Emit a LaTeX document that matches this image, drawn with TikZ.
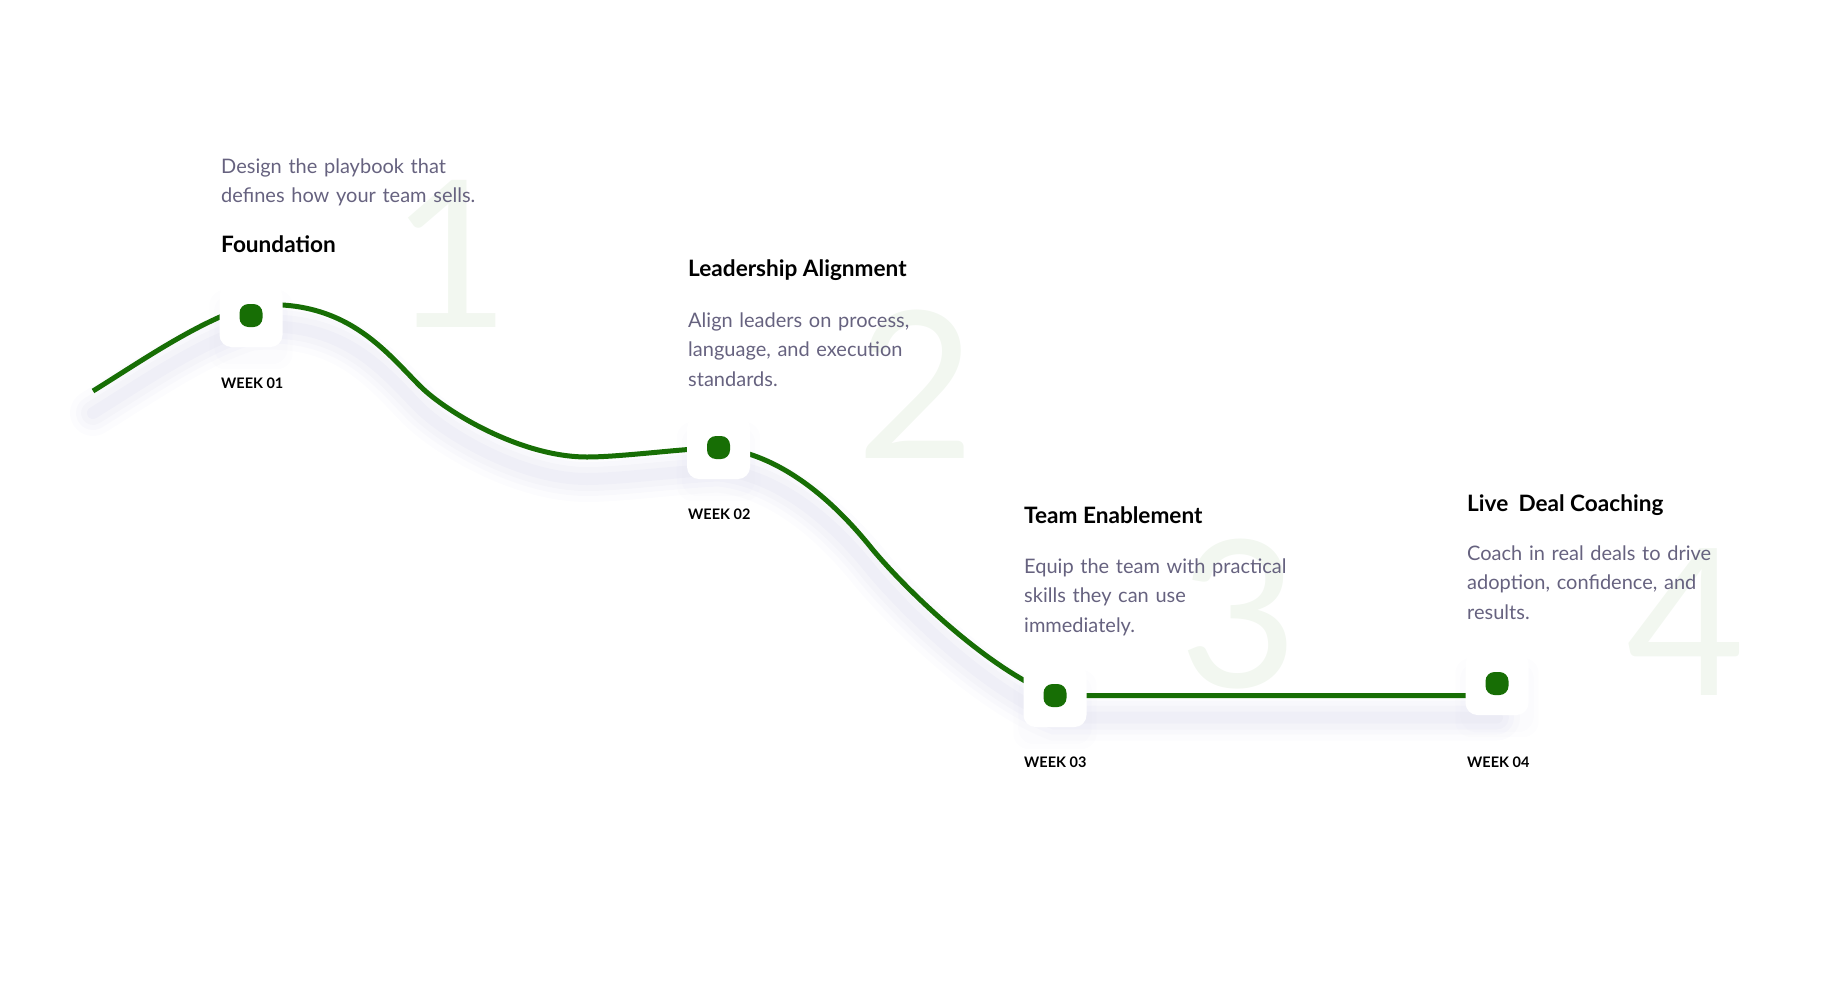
\documentclass[tikz,border=0pt]{standalone}
\usepackage{fontspec}
\setmainfont{Lato}
\usetikzlibrary{calc}
\definecolor{lgreen}{HTML}{176E05}
\definecolor{desc}{HTML}{66627F}
\definecolor{digit}{HTML}{F2F7F0}
\definecolor{shadowc}{HTML}{C6C6E2}
\pgfdeclarelayer{shadowlayer}
\pgfdeclarelayer{curvelayer}
\pgfsetlayers{shadowlayer,curvelayer,main}
\tikzset{
 box/.style={fill=white, rounded corners=12pt, minimum size=63pt, inner sep=0pt},
 dotbox/.style={fill=lgreen, rounded corners=9pt, minimum size=23pt, inner sep=0pt},
 ttl/.style={anchor=base west, inner sep=0pt, font=\fontsize{22.6}{26}\selectfont\bfseries, text=black},
 dsc/.style={anchor=base west, inner sep=0pt, text width=340pt, align=left, font=\fontsize{20}{29.5}\selectfont, text=desc},
 wk/.style={anchor=base west, inner sep=0pt, font=\fontsize{14.5}{17}\selectfont\bfseries, text=black},
 bignum/.style={anchor=base, inner sep=0pt, font=\fontsize{205}{205}\selectfont, text=digit},
 curveline/.style={draw=lgreen, line width=5pt},
}
\newcommand\curvepath{(c0) .. controls (140,362) and (200,320) .. (c1) .. controls (345,297) and (385,351) .. (420,386) .. controls (445,411) and (520,457) .. (587,457) .. controls (620,457) and (680,449) .. (b2.center) .. controls (790,455) and (845,515) .. (873,550) .. controls (911,595) and (990,670) .. (b3.center) -- (b3.center -| b4.center)}
\begin{document}
\begin{tikzpicture}[x=1pt,y=-1pt]
\useasboundingbox (0,0) rectangle (1843,990);
% boxes and dots
\node[box] (b1) at (251,315.5) {};
\node[dotbox] (d1) at (b1) {};
\node[box] (b2) at (718.5,447.5) {};
\node[dotbox] (d2) at (b2) {};
\node[box] (b3) at (1055,695.5) {};
\node[dotbox] (d3) at (b3) {};
\node[box] (b4) at (1497,683.5) {};
\node[dotbox] (d4) at (b4) {};
\coordinate (c0) at (93,391);
\coordinate (c1) at ([yshift=10pt]b1.center);
% big digits and shadows
\begin{pgfonlayer}{shadowlayer}
\node[bignum] (n1) at (451,327) {1};
\node[bignum] (n2) at (916,458) {2};
\node[bignum] (n3) at (1239,687) {3};
\node[bignum] (n4) at (1686,695) {4};
\foreach \w/\o in {46/0.05, 34/0.07, 24/0.09, 12/0.11} {
  \draw[draw=shadowc, line width=\w pt, opacity=\o, line cap=round, transform canvas={yshift=-22pt}] \curvepath;
}
\foreach \n in {b1,b2,b3,b4} {
  \foreach \e/\o in {10/0.035, 5/0.04} {
    \fill[shadowc, opacity=\o, rounded corners=16pt] ($(\n.north west)+(-\e,-\e+16)$) rectangle ($(\n.south east)+(\e,\e+12)$);
  }
}
\end{pgfonlayer}
% curve
\begin{pgfonlayer}{curvelayer}
\draw[curveline] \curvepath;
\end{pgfonlayer}
% texts
\node[dsc] (t1d) at (221,173) {Design the playbook that\\defines how your team sells.};
\node[ttl] (t1t) at (221,252) {Foundation};
\node[wk] (w1) at (221,388) {WEEK 01};
\node[ttl] (t2t) at (688,276) {Leadership Alignment};
\node[dsc] (t2d) at (688,327) {Align leaders on process,\\language, and execution\\standards.};
\node[wk] (w2) at (688,519) {WEEK 02};
\node[ttl] (t3t) at (1024,523) {Team Enablement};
\node[dsc] (t3d) at (1024,573) {Equip the team with practical\\skills they can use\\immediately.};
\node[wk] (w3) at (1024,767) {WEEK 03};
\node[ttl] (t4t) at (1467,511) {Live\hspace{0.45em}Deal Coaching};
\node[dsc] (t4d) at (1467,560) {Coach in real deals to drive\\adoption, confidence, and\\results.};
\node[wk] (w4) at (1467,767) {WEEK 04};
\end{tikzpicture}
\end{document}
